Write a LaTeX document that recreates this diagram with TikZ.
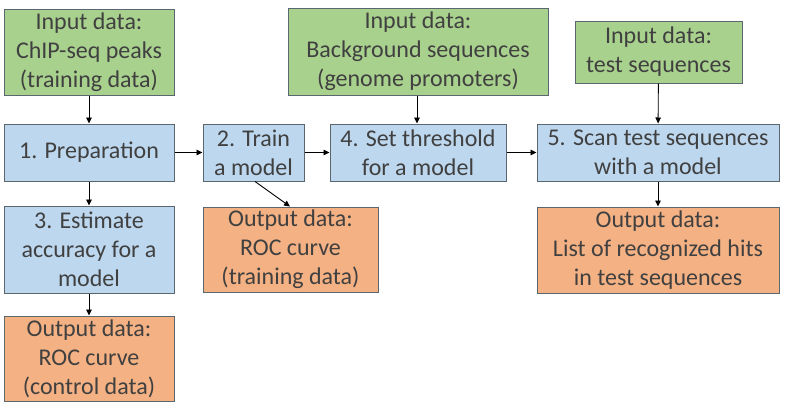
\documentclass[tikz,border=0pt]{standalone}
\usepackage{fontspec}
\setmainfont{Carlito}
\usetikzlibrary{arrows.meta}
\definecolor{ingreen}{HTML}{A9D18E}
\definecolor{stepblue}{HTML}{BDD7EE}
\definecolor{outorange}{HTML}{F4B183}
\definecolor{boxline}{HTML}{5B6770}
\definecolor{txt}{HTML}{404040}
\tikzset{
  box/.style={draw=boxline, line width=1pt, inner sep=0pt, align=center, text=txt,
    font=\fontsize{24}{29}\selectfont},
  inbox/.style={box, fill=ingreen},
  stepbox/.style={box, fill=stepblue},
  outbox/.style={box, fill=outorange},
  conn/.style={line width=0.9pt, -{Triangle[length=6pt,width=5.5pt]}}
}
\newcommand{\bx}[7]{% name style x1 y1 x2 y2 text
  \node[#2, minimum width={(#5-#3)*1pt}, minimum height={(#6-#4)*1pt}] (#1) at ({(#3+#5)/2},{(#4+#6)/2}) {#7};}
\begin{document}
\begin{tikzpicture}[x=1pt,y=-1pt]
\useasboundingbox[fill=white] (0,0) rectangle (788,415);
\bx{in1}{inbox}{4}{9}{174}{95}{Input data:\\ChIP-seq peaks\\(training data)}
\bx{prep}{stepbox}{4}{124}{174}{181}{1. Preparation}
\bx{train}{stepbox}{203}{124}{304}{181}{2. Train\\a model}
\bx{thr}{stepbox}{330}{124}{506}{181}{4. Set threshold\\for a model}
\bx{scan}{stepbox}{537}{124}{779}{181}{5. Scan test sequences\\with a model}
\bx{in2}{inbox}{288}{8}{548}{95}{Input data:\\Background sequences\\(genome promoters)}
\bx{in3}{inbox}{575}{21}{742}{83}{Input data:\\test sequences}
\bx{est}{stepbox}{4}{206}{174}{293}{3. Estimate\\accuracy for a\\model}
\bx{out1}{outbox}{203}{207}{378}{292}{Output data:\\ROC curve\\(training data)}
\bx{out3}{outbox}{537}{207}{779}{293}{Output data:\\List of recognized hits\\in test sequences}
\bx{out2}{outbox}{4}{316}{174}{401}{Output data:\\ROC curve\\(control data)}
\draw[conn] (in1) -- (prep);
\draw[conn] (prep) -- (train);
\draw[conn] (train) -- (thr);
\draw[conn] (thr) -- (scan);
\draw[conn] (in2.south -| 417,0) -- (thr.north -| 417,0);
\draw[conn] (in3) -- (scan);
\draw[conn] (scan) -- (out3);
\draw[conn] (prep) -- (est);
\draw[conn] (est) -- (out2);
\draw[conn] (train.south -| 255,0) -- (out1.north -| 290,0);
\end{tikzpicture}
\end{document}
